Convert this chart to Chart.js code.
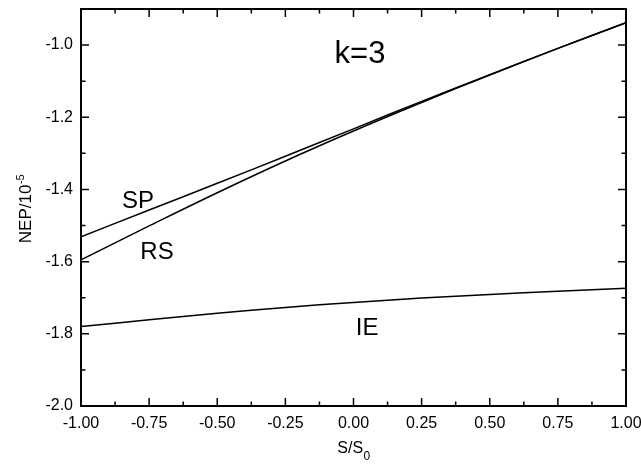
<!DOCTYPE html>
<html><head><meta charset="utf-8">
<script src="https://cdn.jsdelivr.net/npm/chart.js@4.4.1/dist/chart.umd.min.js"></script>
<style>html,body{margin:0;padding:0;background:#fff;}#wrap{width:641px;height:464px;}</style>
</head><body><div id="wrap"><canvas id="c" width="641" height="464"></canvas></div>
<script>
// ---- data ----
const xValues  = [-1, -0.75, -0.5, -0.25, 0, 0.25, 0.5, 0.75, 1];
const spValues = [-1.531, -1.457, -1.383, -1.308, -1.232, -1.156, -1.082, -1.009, -0.938];
const rsValues = [-1.595, -1.501, -1.409, -1.321, -1.238, -1.159, -1.083, -1.009, -0.938];
const ieValues = [-1.780, -1.761, -1.743, -1.727, -1.713, -1.701, -1.691, -1.682, -1.674];
const seriesNames = ['SP', 'RS', 'IE'];
const xTickStep = 0.125;   // labels every 0.25
const yTickStep = 0.1;     // labels every 0.2
const xTitleMain = 'S/S', xTitleSub = '0';
const yTitleMain = 'NEP/10', yTitleSup = '-5';
const panelLabel = 'k=3';

const FONT = '"Liberation Sans", Arial, Helvetica, sans-serif';

function pts(ys){ return xValues.map((x,i)=>({x:x, y:ys[i]})); }

const dsStyle = {borderColor:'#000', borderWidth:1.5, pointRadius:0, fill:false, tension:0.4};

const annotations = [
  {text: panelLabel, x: 0.024, y: -1.049, size: 31},
  {text: seriesNames[0], x: -0.791, y: -1.451, size: 24},
  {text: seriesNames[1], x: -0.721, y: -1.593, size: 24},
  {text: seriesNames[2], x: 0.050, y: -1.803, size: 24}
];

const framePlugin = {
  id: 'frame',
  afterDraw(chart){
    const {ctx, chartArea:a, scales:{x, y}} = chart;
    ctx.save();
    ctx.strokeStyle = '#000';
    ctx.lineWidth = 1.5;
    ctx.beginPath();
    x.ticks.forEach(t=>{
      const major = Math.round(t.value/xTickStep) % 2 === 0;
      const L = major ? 8 : 4.5;
      const px = x.getPixelForValue(t.value);
      ctx.moveTo(px, a.bottom); ctx.lineTo(px, a.bottom - L);
      ctx.moveTo(px, a.top);    ctx.lineTo(px, a.top + L);
    });
    y.ticks.forEach(t=>{
      const major = Math.round(t.value/yTickStep) % 2 === 0;
      const L = major ? 8 : 4.5;
      const py = y.getPixelForValue(t.value);
      ctx.moveTo(a.left, py);  ctx.lineTo(a.left + L, py);
      ctx.moveTo(a.right, py); ctx.lineTo(a.right - L, py);
    });
    ctx.stroke();
    ctx.lineWidth = 2;
    ctx.strokeRect(a.left, a.top, a.right - a.left, a.bottom - a.top);

    ctx.fillStyle = '#000';
    ctx.textAlign = 'center';
    ctx.textBaseline = 'alphabetic';
    annotations.forEach(an=>{
      ctx.font = an.size + 'px ' + FONT;
      ctx.fillText(an.text, x.getPixelForValue(an.x), y.getPixelForValue(an.y));
    });

    // x title with subscript
    ctx.textAlign = 'left';
    ctx.font = '16px ' + FONT;
    const w1 = ctx.measureText(xTitleMain).width;
    ctx.font = '12px ' + FONT;
    const w2 = ctx.measureText(xTitleSub).width;
    const cx = (a.left + a.right)/2;
    const bx = a.bottom + 47;
    let sx = cx - (w1 + w2)/2;
    ctx.font = '16px ' + FONT;
    ctx.fillText(xTitleMain, sx, bx);
    ctx.font = '12px ' + FONT;
    ctx.fillText(xTitleSub, sx + w1 + 0.5, bx + 7);

    // y title with superscript
    ctx.save();
    ctx.translate(a.left - 50, (a.top + a.bottom)/2 + 1.5);
    ctx.rotate(-Math.PI/2);
    ctx.font = '17px ' + FONT;
    const v1 = ctx.measureText(yTitleMain).width;
    ctx.font = '11px ' + FONT;
    const v2 = ctx.measureText(yTitleSup).width;
    let sy = -(v1 + v2)/2;
    ctx.font = '17px ' + FONT;
    ctx.fillText(yTitleMain, sy, 0);
    ctx.font = '11px ' + FONT;
    ctx.fillText(yTitleSup, sy + v1 + 0.5, -7.5);
    ctx.restore();

    ctx.restore();
  }
};

new Chart(document.getElementById('c'), {
  type: 'line',
  data: {
    datasets: [
      Object.assign({label: seriesNames[0], data: pts(spValues)}, dsStyle),
      Object.assign({label: seriesNames[1], data: pts(rsValues)}, dsStyle),
      Object.assign({label: seriesNames[2], data: pts(ieValues)}, dsStyle)
    ]
  },
  options: {
    responsive: false,
    animation: false,
    devicePixelRatio: 1,
    layout: {padding: {top: 9, right: 15, left: 0, bottom: 0}},
    plugins: {legend: {display: false}, tooltip: {enabled: false}},
    scales: {
      x: {
        type: 'linear', min: -1, max: 1,
        grid: {display: false, drawTicks: false},
        border: {display: false},
        ticks: {
          stepSize: xTickStep, autoSkip: false, maxRotation: 0, padding: 8,
          color: '#000', font: {family: FONT, size: 16},
          callback: (v) => (Math.round(v/xTickStep) % 2 === 0) ? (Math.abs(v) < 1e-9 ? '0.00' : v.toFixed(2)) : ''
        },
        afterFit: (s) => { s.height = 58; s.paddingLeft = 0; s.paddingRight = 0; }
      },
      y: {
        type: 'linear', min: -2.0, max: -0.9,
        grid: {display: false, drawTicks: false},
        border: {display: false},
        ticks: {
          stepSize: yTickStep, autoSkip: false, padding: 8,
          color: '#000', font: {family: FONT, size: 16},
          callback: (v) => (Math.abs(Math.round(v/yTickStep)) % 2 === 0) ? v.toFixed(1) : ''
        },
        afterFit: (s) => { s.width = 81; s.paddingTop = 0; s.paddingBottom = 0; }
      }
    }
  },
  plugins: [framePlugin]
});
</script>
</body></html>
